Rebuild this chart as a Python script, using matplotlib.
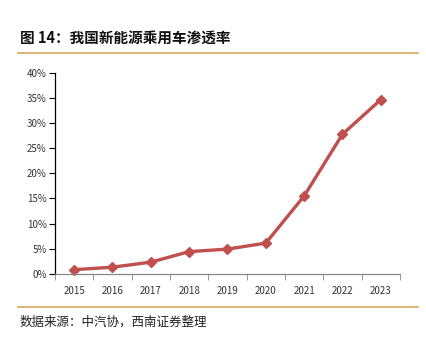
import numpy as np
import matplotlib.pyplot as plt
from matplotlib.lines import Line2D

plt.rcParams['font.family'] = ['Noto Sans CJK SC', 'DejaVu Sans']

years = ['2015', '2016', '2017', '2018', '2019', '2020', '2021', '2022', '2023']
penetration = [0.8, 1.3, 2.3, 4.4, 4.9, 6.1, 15.5, 27.8, 34.7]

fig = plt.figure(figsize=(4.27, 3.37), dpi=100)
ax = fig.add_axes([55 / 427, 1 - 273.7 / 337, 345 / 427, 200.7 / 337])

x = np.arange(len(years))
ax.plot(x, penetration, color='#C0504D', lw=2.4, marker='D', ms=5.5,
        solid_capstyle='round', clip_on=False)

ax.set_xlim(-0.5, len(years) - 0.5)
ax.set_ylim(0, 40)
ax.set_yticks(np.arange(0, 41, 5))
ax.set_yticklabels([f'{v}%' for v in range(0, 41, 5)])
ax.set_xticks(x)
ax.set_xticklabels(years)
ax.set_xticks(np.arange(-0.5, len(years), 1), minor=True)
ax.tick_params(axis='x', which='major', length=0, pad=9, labelsize=7, labelcolor='#333333')
ax.tick_params(axis='x', which='minor', length=4, color='#888888', direction='out')
ax.tick_params(axis='y', length=4, color='black', labelsize=7, labelcolor='#333333', pad=2)

for s in ['top', 'right']:
    ax.spines[s].set_visible(False)
ax.spines['left'].set_color('black')
ax.spines['left'].set_linewidth(0.9)
ax.spines['bottom'].set_color('#888888')
ax.spines['bottom'].set_linewidth(0.9)

fig.text(20 / 427, 1 - 38 / 337, '图 14：我国新能源乘用车渗透率', fontsize=10.5,
         fontweight='bold', va='center', ha='left', color='#111111')
fig.add_artist(Line2D([18 / 427, 418 / 427], [1 - 53 / 337] * 2, color='#D4A563', lw=1.2))
fig.add_artist(Line2D([18 / 427, 418 / 427], [1 - 306.5 / 337] * 2, color='#D4A563', lw=1.2))
fig.text(20 / 427, 1 - 322 / 337, '数据来源：中汽协，西南证券整理', fontsize=9,
         style='italic', va='center', ha='left', color='#222222')

fig.savefig('out.png', dpi=100)
